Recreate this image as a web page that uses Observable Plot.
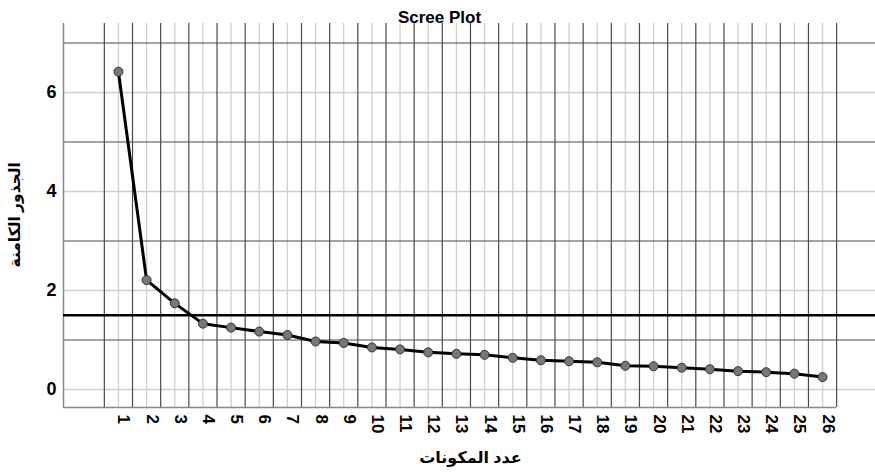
<!DOCTYPE html>
<html>
<head>
<meta charset="utf-8">
<script src="https://cdn.jsdelivr.net/npm/d3@7"></script>
<script src="https://cdn.jsdelivr.net/npm/@observablehq/plot@0.6"></script>
<style>
  html, body { margin: 0; padding: 0; background: #fff; }
</style>
</head>
<body>
<div id="chart"></div>
<script>
const title = "Scree Plot";
const xLabel = "عدد المكونات";
const yLabel = "الجذور الكامنة";
const components = [1,2,3,4,5,6,7,8,9,10,11,12,13,14,15,16,17,18,19,20,21,22,23,24,25,26];
const eigenvalues = [6.42,2.21,1.74,1.33,1.25,1.17,1.10,0.97,0.94,0.85,0.81,0.75,0.72,0.70,0.64,0.59,0.57,0.55,0.48,0.47,0.44,0.41,0.37,0.35,0.32,0.25];
const yTicks = [0,2,4,6];
const yOddLines = [1,3,5,7];
const threshold = 1.5;

const xMin = -0.95, xMax = 27.88;
const yMin = -0.364, yMax = 7.394;
const halfLines = components.map(c => c - 0.5).concat([components[components.length-1] + 0.5]);
const xLast = components[components.length-1] + 0.5;

const data = components.map((c, i) => ({c, v: eigenvalues[i]}));
const font = "'Liberation Sans', Arial, 'DejaVu Sans', sans-serif";

const chart = Plot.plot({
  width: 875,
  height: 474,
  marginTop: 23,
  marginLeft: 63,
  marginRight: 0,
  marginBottom: 67,
  x: {domain: [xMin, xMax], axis: null},
  y: {domain: [yMin, yMax], axis: null},
  style: {fontFamily: font, background: "#fff", color: "#000"},
  marks: [
    Plot.ruleX(components, {x: d => d, y1: () => yMin, y2: () => yMax, stroke: "#cfcfcf", strokeWidth: 1.3}),
    Plot.ruleY(yTicks, {y: d => d, x1: () => xMin, x2: () => xMax, stroke: "#cfcfcf", strokeWidth: 1.3}),
    Plot.ruleX(halfLines, {x: d => d, y1: () => yMin, y2: () => yMax, stroke: "#4a4a4a", strokeWidth: 1.2}),
    Plot.ruleY(yOddLines, {y: d => d, x1: () => xMin, x2: () => xMax, stroke: "#4a4a4a", strokeWidth: 1.2}),
    Plot.ruleX([xMin], {x: d => d, y1: () => yMin, y2: () => yMax, stroke: "#888", strokeWidth: 1.5}),
    Plot.ruleY([yMin], {y: d => d, x1: () => xMin, x2: () => xLast, stroke: "#888", strokeWidth: 1.5}),
    Plot.ruleY([threshold], {y: d => d, x1: () => xMin, x2: () => xMax, stroke: "#000", strokeWidth: 2.5}),
    Plot.line(data, {x: "c", y: "v", stroke: "#000", strokeWidth: 3}),
    Plot.dot(data, {x: "c", y: "v", r: 4.5, fill: "#777", stroke: "#333", strokeWidth: 1}),
    Plot.text(components, {x: d => d, frameAnchor: "bottom", rotate: 90, textAnchor: "start", dy: 7, text: d => String(d), fontSize: 17, fontWeight: "bold", fill: "#000", ariaLabel: "xticks"}),
    Plot.text(yTicks, {y: d => d, frameAnchor: "left", textAnchor: "end", dx: -7, text: d => String(d), fontSize: 18, fontWeight: "bold", fill: "#000"}),
    Plot.text([title], {frameAnchor: "top", dx: -30, dy: -13, fontSize: 17, fontWeight: "bold", fill: "#000"}),
    Plot.text([xLabel], {frameAnchor: "bottom", dx: 1, dy: 55, fontSize: 16, fontWeight: "bold", fill: "#000"}),
    Plot.text([yLabel], {frameAnchor: "left", rotate: -90, dx: -48, dy: 52, fontSize: 15.5, fontWeight: "bold", fill: "#000"})
  ]
});
document.getElementById("chart").appendChild(chart);

// stretch rotated tick digits along their cap direction, as in the reference
d3.select(chart).selectAll('g[aria-label="xticks"] text').each(function() {
  const t = this.getAttribute("transform") || "";
  this.setAttribute("transform", t + " scale(1,1.15)");
});
</script>
</body>
</html>
